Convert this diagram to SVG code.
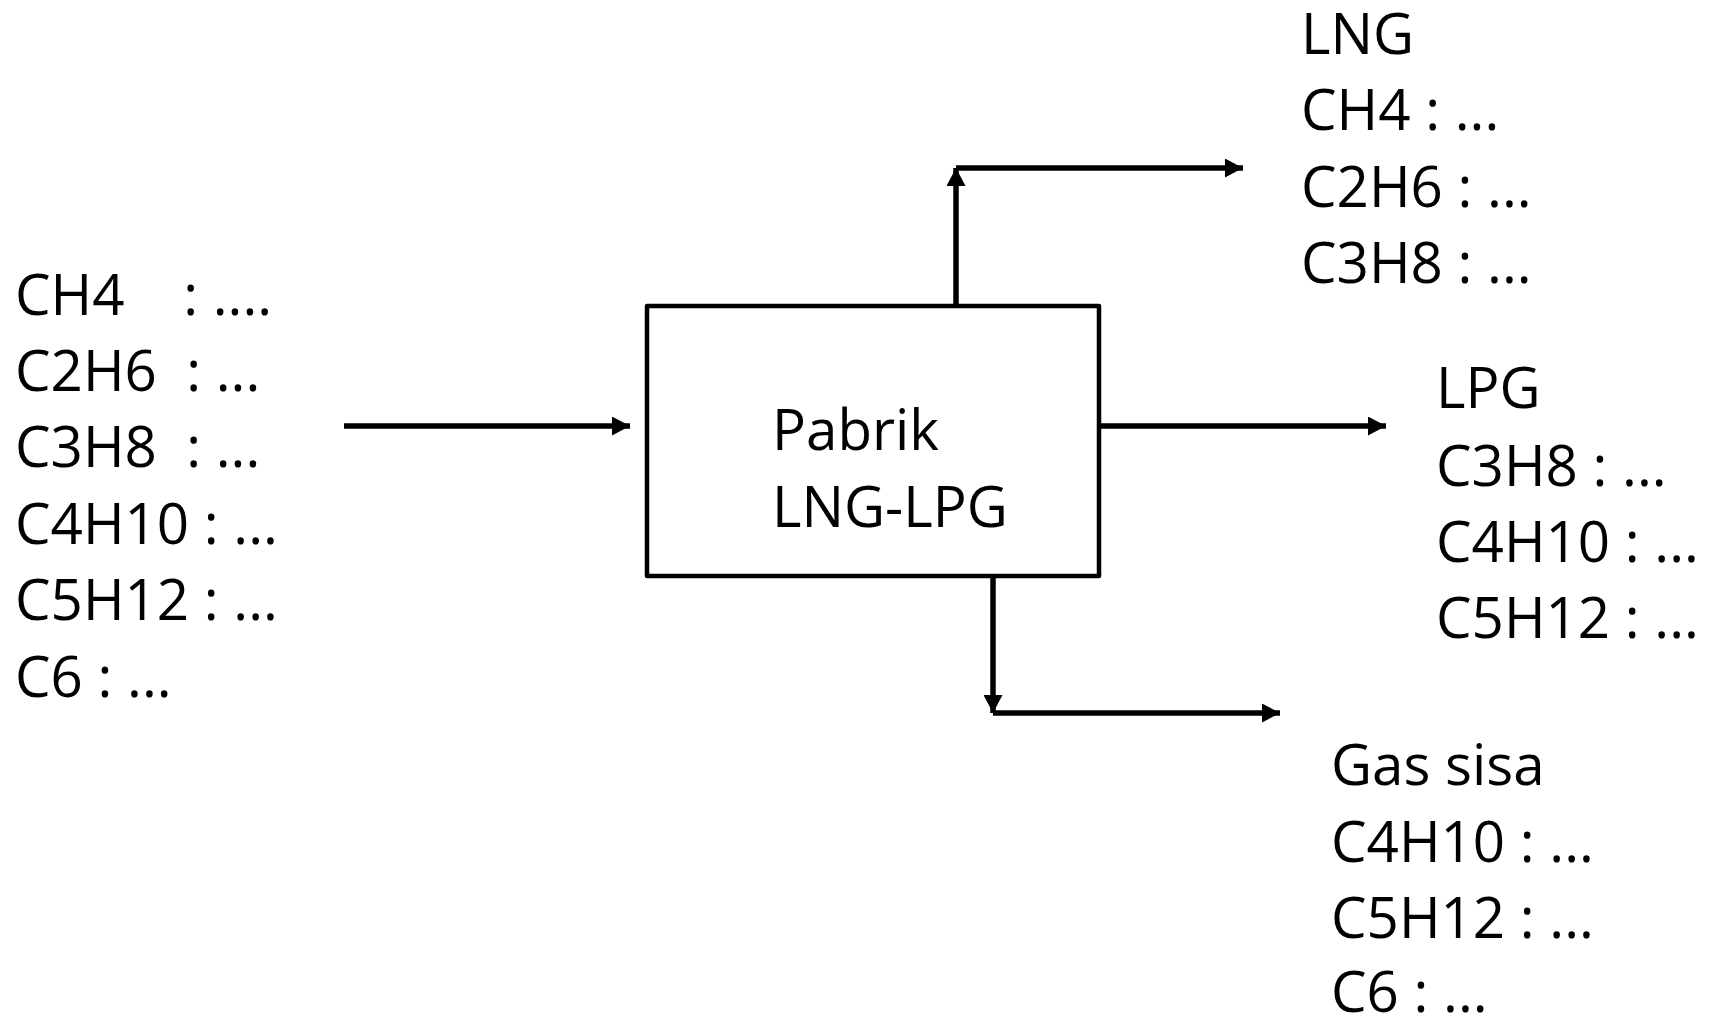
<svg xmlns="http://www.w3.org/2000/svg" width="1716" height="1024" viewBox="0 0 1716 1024">
<style>
text{font-family:"Open Sans","Noto Sans","Liberation Sans",sans-serif;font-size:56.5px;fill:#000;white-space:pre}
.ln{fill:none;stroke:#000;stroke-width:5.5}
</style>
<defs>
<marker id="ah" markerUnits="userSpaceOnUse" markerWidth="18" markerHeight="19" refX="18" refY="9.5" orient="auto">
<path d="M0,0 L18,9.5 L0,19 Z" fill="#000"/>
</marker>
</defs>
<rect width="1716" height="1024" fill="#fff"/>
<g id="feed">
<text x="15" y="315">CH4    : ....</text>
<text x="15" y="391">C2H6  : ...</text>
<text x="15" y="467">C3H8  : ...</text>
<text x="15" y="544">C4H10 : ...</text>
<text x="15" y="620">C5H12 : ...</text>
<text x="15" y="697">C6 : ...</text>
</g>
<g id="plant">
<rect x="647" y="306" width="452" height="270" fill="none" stroke="#000" stroke-width="4.5" stroke-linejoin="round"/>
<text x="772" y="450">Pabrik</text>
<text x="772" y="527">LNG-LPG</text>
</g>
<g id="lng">
<text x="1301" y="54">LNG</text>
<text x="1301" y="130">CH4 : ...</text>
<text x="1301" y="207">C2H6 : ...</text>
<text x="1301" y="283">C3H8 : ...</text>
</g>
<g id="lpg">
<text x="1436" y="408">LPG</text>
<text x="1436" y="486">C3H8 : ...</text>
<text x="1436" y="562">C4H10 : ...</text>
<text x="1436" y="638">C5H12 : ...</text>
</g>
<g id="gas-sisa">
<text x="1331" y="785">Gas sisa</text>
<text x="1331" y="862">C4H10 : ...</text>
<text x="1331" y="938">C5H12 : ...</text>
<text x="1331" y="1012">C6 : ...</text>
</g>
<g id="connectors">
<line class="ln" x1="344" y1="426" x2="630" y2="426" marker-end="url(#ah)"/>
<line class="ln" x1="956" y1="306" x2="956" y2="168" marker-end="url(#ah)"/>
<line class="ln" x1="956" y1="168" x2="1243" y2="168" marker-end="url(#ah)"/>
<line class="ln" x1="1099" y1="426" x2="1386" y2="426" marker-end="url(#ah)"/>
<line class="ln" x1="993" y1="576" x2="993" y2="713" marker-end="url(#ah)"/>
<line class="ln" x1="993" y1="713" x2="1280" y2="713" marker-end="url(#ah)"/>
</g>
</svg>
